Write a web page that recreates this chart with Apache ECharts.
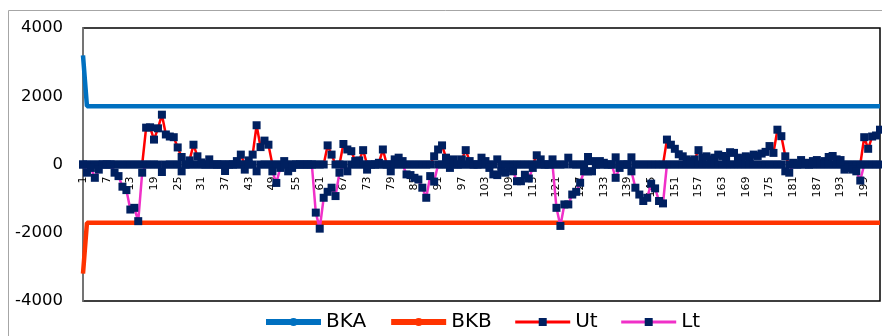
<!DOCTYPE html>
<html>
<head>
<meta charset="utf-8">
<script src="https://cdn.jsdelivr.net/npm/echarts@6/dist/echarts.min.js"></script>
<style>
    html, body { margin: 0; padding: 0; background: #fff; }
    #chart { width: 882px; height: 336px; }
</style>
</head>
<body>
<div id="chart"></div>
<script>
var count = 203;
var categories = [];
for (var i = 1; i <= count; i++) {
    categories.push(String(i));
}

// control limits
var bkaStart = 3200, bkaLevel = 1710;
var bkbStart = -3200, bkbLevel = -1710;

var utValues = [
    0, 0, 0, 0, 0, 0, 0, 0, 0, 0,
    0, 0, 0, 0, 0, 0, 1080, 1090, 730, 1060,
    1460, 880, 820, 800, 500, 220, 0, 120, 580, 240,
    60, 0, 150, 0, 0, 0, 0, 0, 0, 100,
    290, 0, 120, 290, 1150, 510, 700, 580, 0, 0,
    0, 100, 0, 0, 0, 0, 0, 0, 0, 0,
    0, 0, 560, 290, 0, 0, 600, 440, 390, 100,
    120, 420, 0, 0, 0, 50, 440, 0, 0, 150,
    200, 100, 0, 0, 0, 0, 0, 0, 0, 240,
    440, 560, 200, 50, 150, 0, 150, 420, 100, 0,
    0, 200, 100, 0, 0, 150, 0, 0, 0, 0,
    0, 0, 0, 0, 0, 270, 150, 0, 0, 150,
    0, 0, 0, 200, 0, 0, 0, 0, 220, 100,
    0, 100, 50, 0, 0, 210, 0, 0, 0, 210,
    0, 0, 0, 0, 0, 0, 0, 0, 730, 580,
    460, 300, 240, 150, 100, 150, 420, 200, 240, 150,
    200, 290, 250, 200, 360, 340, 200, 150, 240, 200,
    290, 250, 320, 370, 540, 340, 1020, 830, 240, 0,
    50, 0, 130, 50, 0, 100, 130, 50, 100, 220,
    250, 150, 130, 0, 0, 0, 0, 0, 800, 460,
    820, 850, 1020
];

var ltValues = [
    0, -240, -100, -390, -150, 0, 0, 0, -240, -340,
    -650, -750, -1320, -1270, -1660, -240, 0, 0, 0, 0,
    -220, 0, 0, 0, 0, -200, 0, 0, 0, 0,
    0, 0, 0, 0, 0, 0, -190, 0, 0, 0,
    0, -150, 0, 0, -200, 0, 0, 0, -200, -540,
    -100, 0, -200, -100, 0, 0, 0, 0, 0, -1410,
    -1880, -975, -800, -680, -925, -240, 0, -200, 0, 0,
    0, 0, -150, 0, 0, 0, 0, 0, -200, 0,
    0, 0, -290, -310, -390, -440, -680, -975, -340, -500,
    0, 0, 0, -100, 0, 0, 0, 0, 0, 0,
    0, 0, 0, -100, -290, -310, -200, -240, -100, -200,
    -490, -490, -300, -410, -100, 0, 0, 0, 0, 0,
    -1270, -1800, -1170, -1170, -880, -800, -535, -200, -200, -200,
    0, 0, 0, 0, 0, -390, -100, 0, 0, -200,
    -680, -880, -1070, -975, -560, -700, -1070, -1140, 0, 0,
    0, 0, 0, 0, 0, 0, 0, 0, 0, 0,
    0, 0, 0, 0, 0, 0, 0, 0, 0, 0,
    0, 0, 0, 0, 0, 0, 0, 0, -200, -240,
    0, 0, 0, 0, 0, 0, 0, 0, 0, 0,
    0, 0, 0, -150, -100, -150, -200, -470, 0, 0,
    0, 0, 0
];

var yMin = -4000, yMax = 4000, yStep = 2000;

var bkaValues = categories.map(function (c, idx) { return idx === 0 ? bkaStart : bkaLevel; });
var bkbValues = categories.map(function (c, idx) { return idx === 0 ? bkbStart : bkbLevel; });

var font = 'DejaVu Sans';
var markerColor = '#002060';

var gridTop = 28, gridBottom = 35, chartHeight = 336;
// move the category axis up to the zero line
var plotHeight = chartHeight - gridTop - gridBottom;
var zeroOffset = -plotHeight * (0 - yMin) / (yMax - yMin);

var chart = echarts.init(document.getElementById('chart'), null, {renderer: 'canvas'});

chart.setOption({
    animation: false,
    graphic: [{
        type: 'rect',
        shape: {x: 8.5, y: 10.5, width: 900, height: 400},
        style: {fill: 'none', stroke: '#a6a6a6', lineWidth: 1},
        silent: true,
        z: -1
    }],
    grid: {
        left: 83, right: 2, top: gridTop, bottom: gridBottom,
        show: true,
        borderColor: '#000',
        borderWidth: 1.5,
        containLabel: false
    },
    legend: {
        left: 258,
        top: 307,
        itemWidth: 55,
        itemHeight: 10,
        itemGap: 22,
        textStyle: {fontFamily: font, fontSize: 20, color: '#000'},
        data: [
            {name: 'BKA', lineStyle: {width: 6}},
            {name: 'BKB', lineStyle: {width: 6}},
            {name: 'Ut', lineStyle: {width: 3}},
            {name: 'Lt', lineStyle: {width: 3}}
        ]
    },
    xAxis: {
        type: 'category',
        data: categories,
        boundaryGap: false,
        position: 'bottom',
        offset: zeroOffset,
        axisLine: {onZero: false, lineStyle: {color: '#868686', width: 1}},
        axisTick: {show: false},
        axisLabel: {
            interval: 5,
            rotate: 90,
            margin: 12,
            fontFamily: font,
            fontSize: 11,
            color: '#000'
        },
        splitLine: {show: false}
    },
    yAxis: {
        type: 'value',
        min: yMin,
        max: yMax,
        interval: yStep,
        axisLine: {show: true, lineStyle: {color: '#868686', width: 1.5}},
        axisTick: {show: false},
        axisLabel: {
            fontFamily: font,
            fontSize: 16.5,
            color: '#000',
            margin: 20,
            formatter: function (v) { return String(v); }
        },
        splitLine: {show: false}
    },
    series: [{
        name: 'BKA',
        type: 'line',
        data: bkaValues,
        symbol: 'none',
        lineStyle: {color: '#0070c0', width: 4.5},
        itemStyle: {color: '#0070c0'}
    }, {
        name: 'BKB',
        type: 'line',
        data: bkbValues,
        symbol: 'none',
        lineStyle: {color: '#ff3300', width: 4.5},
        itemStyle: {color: '#ff3300'}
    }, {
        name: 'Ut',
        type: 'line',
        data: utValues,
        symbol: 'rect',
        symbolSize: 8,
        showAllSymbol: true,
        lineStyle: {color: '#ff0000', width: 2.5},
        itemStyle: {color: markerColor, borderWidth: 0}
    }, {
        name: 'Lt',
        type: 'line',
        data: ltValues,
        symbol: 'rect',
        symbolSize: 8,
        showAllSymbol: true,
        lineStyle: {color: '#f030c8', width: 2.5},
        itemStyle: {color: markerColor, borderWidth: 0}
    }]
});
</script>
</body>
</html>
